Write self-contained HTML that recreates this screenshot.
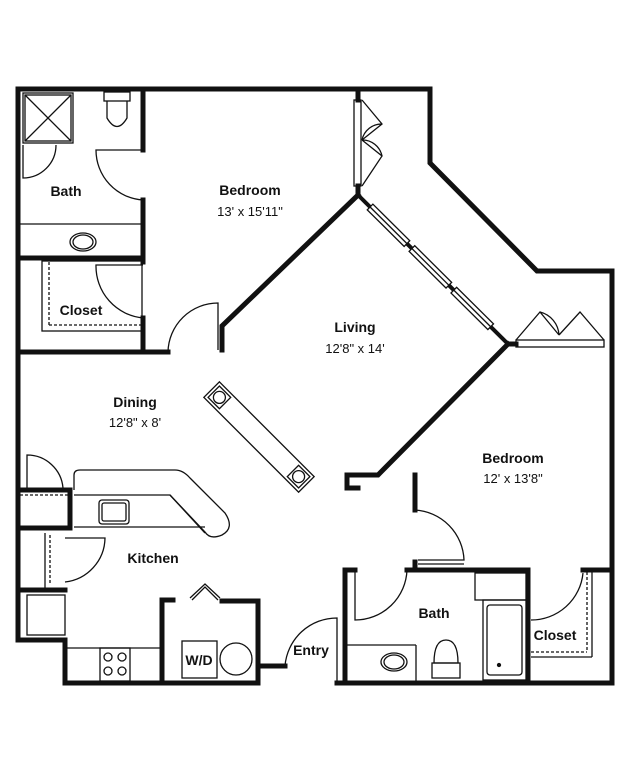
<!DOCTYPE html>
<html><head><style>
html,body{margin:0;padding:0;background:#fff;}
svg{display:block;}
text{font-family:"Liberation Sans",sans-serif;fill:#111;text-anchor:middle;}
.b{font-weight:bold;font-size:14px;}
.n{font-size:13px;}
</style></head><body>
<svg width="629" height="762" viewBox="0 0 629 762" xmlns="http://www.w3.org/2000/svg">
<g stroke="#111" stroke-width="5" fill="none" stroke-linecap="square">
<polyline points="18,640 18,89 430,89 430,163 537,271 612,271 612,683 345,683 345,570"/>
<polyline points="65,640 18,640"/>
<polyline points="65,640 65,683 258,683 258,601 222,601"/>
<polyline points="173,600 162,600 162,683"/>
<polyline points="258,666 285,666"/>
<polyline points="337,683 345,683"/>
<polyline points="143,89 143,150"/>
<polyline points="143,200 143,262"/>
<polyline points="143,318 143,352"/>
<polyline points="18,258 143,258"/>
<polyline points="18,352 168,352"/>
<polyline points="222,350 222,326 358,195"/>
<polyline points="358,89 358,100"/>
<polyline points="358,186 358,195"/>
<polyline points="18,490 70,490 70,528 18,528"/>
<polyline points="18,590 65,590"/>
<polyline points="508,344 516,344"/>
<polyline points="508,344 378,475 347,475 347,488 358,488"/>
<polyline points="415,475 415,510"/>
<polyline points="415,562 415,570"/>
<polyline points="345,570 355,570"/>
<polyline points="407,570 528,570 528,683"/>
<polyline points="583,570 612,570"/>
</g>
<line x1="358" y1="195" x2="508" y2="344" stroke="#111" stroke-width="4"/>
<g transform="translate(358,195) rotate(44.8)" stroke="#111" stroke-width="1.3" fill="#fff">
<rect x="17" y="-4" width="52" height="8"/><line x1="17" y1="0" x2="69" y2="0"/>
<rect x="76" y="-4" width="52" height="8"/><line x1="76" y1="0" x2="128" y2="0"/>
<rect x="135" y="-4" width="52" height="8"/><line x1="135" y1="0" x2="187" y2="0"/>
</g>
<g stroke="#111" stroke-width="1.3" fill="none">
<rect x="23" y="93" width="50" height="50"/>
<rect x="25" y="95" width="46" height="46"/>
<line x1="25" y1="95" x2="71" y2="141"/><line x1="71" y1="95" x2="25" y2="141"/>
<path d="M23,145 L23,178 A33,33 0 0 0 56,145"/>
<rect x="104" y="92" width="26" height="9"/>
<path d="M107,101 L107,118 Q117,135 127,118 L127,101"/>
<path d="M143,150 L96,150 A50,50 0 0 0 143,200"/>
<line x1="20" y1="224" x2="141" y2="224"/>
<ellipse cx="83" cy="242" rx="13" ry="9"/><ellipse cx="83" cy="242" rx="10" ry="7"/>
<rect x="42" y="261" width="100" height="70"/>
<path d="M143,265 L96,265 A52,52 0 0 0 143,318"/>
<line x1="49" y1="262" x2="49" y2="325" stroke-dasharray="3,2"/>
<line x1="49" y1="325" x2="141" y2="325" stroke-dasharray="3,2"/>
<path d="M168,352 A50,50 0 0 1 218,303 L218,350"/>
<rect x="354" y="100" width="7" height="86"/>
<path d="M362,100 L382,124 L362,140 M362,140 L382,156 L362,186 M382,124 A20,20 0 0 0 362,140 M382,156 A20,20 0 0 0 362,140"/>
<rect x="516" y="340" width="88" height="7"/>
<path d="M516,340 L540,312 L559,335 M604,340 L580,312 L559,335 M540,312 A25,25 0 0 1 559,335"/>
<path d="M27,488 L27,455 A36,36 0 0 1 63,488"/>
<line x1="20" y1="495" x2="68" y2="495" stroke-dasharray="3,2"/>
<path d="M74,490 L74,475 Q74,470 80,470 L175,470 Q183,470 190,478 L225,513 Q235,528 222,535 Q210,540 205,532 L170,495 L74,495"/>
<path d="M170,495 L205,533"/>
<line x1="74" y1="527" x2="205" y2="527"/>
<rect x="99" y="500" width="30" height="24" rx="3"/><rect x="102" y="503" width="24" height="18" rx="2"/>
<line x1="50" y1="535" x2="50" y2="585" stroke-dasharray="3,2"/>
<line x1="45" y1="533" x2="45" y2="588"/>
<path d="M65,538 L105,538 A45,45 0 0 1 65,582"/>
<rect x="27" y="595" width="38" height="40"/>
<line x1="67" y1="648" x2="160" y2="648"/>
<rect x="100" y="648" width="30" height="33"/>
<circle cx="108" cy="657" r="4"/><circle cx="122" cy="657" r="4"/><circle cx="108" cy="671" r="4"/><circle cx="122" cy="671" r="4"/>
<path d="M190,598 L205,584 L220,598 M192,600 L205,587 L218,600"/>
<rect x="182" y="641" width="35" height="37"/>
<circle cx="236" cy="659" r="16"/>
<g transform="translate(259,437) rotate(45)"><rect x="-67" y="-11" width="134" height="22"/><rect x="-64" y="-8" width="16" height="16"/><circle cx="-56" cy="0" r="6"/><rect x="48" y="-8" width="16" height="16"/><circle cx="56" cy="0" r="6"/></g>
<path d="M285,666 A52,52 0 0 1 337,618 L337,683"/>
<path d="M415,510 A52,52 0 0 1 464,560 L418,560 M418,564 L464,564"/>
<path d="M355,570 L355,620 A52,52 0 0 0 407,570"/>
<rect x="475" y="573" width="51" height="27"/>
<rect x="483" y="600" width="43" height="80"/><rect x="487" y="605" width="35" height="70" rx="3"/>
<circle cx="499" cy="665" r="1.5" fill="#111"/>
<line x1="347" y1="645" x2="416" y2="645"/><line x1="416" y1="645" x2="416" y2="681"/>
<ellipse cx="394" cy="662" rx="13" ry="9"/><ellipse cx="394" cy="662" rx="10" ry="7"/>
<path d="M434,663 Q434,640 446,640 Q458,640 458,663 Z"/><rect x="432" y="663" width="28" height="15"/>
<path d="M583,573 A52,52 0 0 1 531,620"/>
<line x1="587" y1="572" x2="587" y2="652" stroke-dasharray="3,2"/>
<line x1="531" y1="652" x2="587" y2="652" stroke-dasharray="3,2"/>
<line x1="592" y1="572" x2="592" y2="657"/><line x1="531" y1="657" x2="592" y2="657"/>
</g>
<text class="b" x="66" y="196">Bath</text>
<text class="b" x="250" y="195">Bedroom</text>
<text class="n" x="250" y="216">13' x 15'11"</text>
<text class="b" x="81" y="315">Closet</text>
<text class="b" x="355" y="332">Living</text>
<text class="n" x="355" y="353">12'8" x 14'</text>
<text class="b" x="135" y="407">Dining</text>
<text class="n" x="135" y="427">12'8" x 8'</text>
<text class="b" x="513" y="463">Bedroom</text>
<text class="n" x="513" y="483">12' x 13'8"</text>
<text class="b" x="153" y="563">Kitchen</text>
<text class="b" x="199" y="665">W/D</text>
<text class="b" x="311" y="655">Entry</text>
<text class="b" x="434" y="618">Bath</text>
<text class="b" x="555" y="640">Closet</text>
</svg>
</body></html>
